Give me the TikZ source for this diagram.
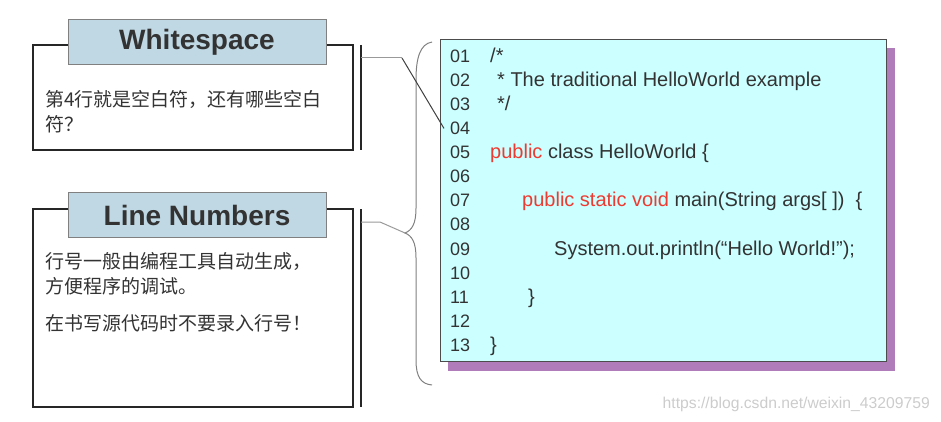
\documentclass[tikz,border=0pt]{standalone}
\usepackage{fontspec}
\setmainfont{Liberation Sans}
\newfontfamily\cjk{Noto Sans CJK SC}
\usepackage{tikz}
\usetikzlibrary{calc}
\definecolor{titleblue}{HTML}{BFD8E4}
\definecolor{codecyan}{HTML}{CCFFFF}
\definecolor{shadowpurple}{HTML}{B07CBA}
\definecolor{textgray}{HTML}{333333}
\definecolor{kwred}{HTML}{EE3A30}
\tikzstyle{outerbox} = [rectangle, draw=black!85, line width=1.2pt, fill=white, minimum width=320pt, inner sep=0pt]
\tikzstyle{titlebox} = [rectangle, draw=gray, line width=1pt, fill=titleblue, minimum width=258pt, minimum height=45pt, font=\fontsize{28}{30}\selectfont\bfseries, text=textgray]
\tikzstyle{note} = [anchor=west, align=left, inner sep=0pt, font=\cjk\fontsize{19}{25}\selectfont, text=textgray]
\tikzstyle{num} = [anchor=base west, inner sep=0pt, font=\fontsize{18}{20}\selectfont, text=textgray]
\tikzstyle{code} = [num, font=\fontsize{20}{22}\selectfont]
\tikzstyle{link} = [draw=gray!80, line width=1pt]
\newcommand{\kw}[1]{\textcolor{kwred}{#1}}

\begin{document}
\begin{tikzpicture}[x=1pt, y=-1pt]
    \useasboundingbox (0,0) rectangle (941,422);

    % left boxes
    \node (wsbox) [outerbox, minimum height=105pt] at (193,97.5) {};
    \node (wstitle) [titlebox] at (197,42.5) {Whitespace};
    \node (wstext) [note] at (45,112) {第4行就是空白符，还有哪些空白\\符？};

    \node (lnbox) [outerbox, minimum height=198pt] at (193,308) {};
    \node (lntitle) [titlebox] at (197,215) {Line Numbers};
    \node (lntext) [note, anchor=north west] at (45,252) {行号一般由编程工具自动生成，\\方便程序的调试。\\[12pt]在书写源代码时不要录入行号！};

    \draw [line width=1.2pt, black!85] (361,45) -- (361,150);
    \draw [line width=1.2pt, black!85] (361,209) -- (361,407);
    \coordinate (wsbar) at (361,58);
    \coordinate (lnbar) at (361,222);

    % code listing
    \fill [shadowpurple] (448,48) rectangle (895,371);
    \node (code) [rectangle, draw=black!70, line width=1pt, fill=codecyan, minimum width=446pt, minimum height=321pt, inner sep=0pt] at (663,200.5) {};

    \foreach \n [count=\k] in {01,02,03,04,05,06,07,08,09,10,11,12,13}
        \node (n\n) [num] at (450,{62.4+24.08*(\k-1)}) {\n};

    \node (c01) [code] at ($(n01.base west) + (40,0)$) {/*};
    \node (c02) [code] at ($(n02.base west) + (47,0)$) {* The traditional HelloWorld example};
    \node (c03) [code] at ($(n03.base west) + (47,0)$) {*/};
    \node (c05) [code] at ($(n05.base west) + (40,0)$) {\kw{public} class HelloWorld \{};
    \node (c07) [code] at ($(n07.base west) + (72,0)$) {\kw{public static void} main(String args[ ])~~\{};
    \node (c09) [code] at ($(n09.base west) + (104,0)$) {System.out.println(“Hello World!”);};
    \node (c11) [code] at ($(n11.base west) + (78,0)$) {\}};
    \node (c13) [code] at ($(n13.base west) + (40,0)$) {\}};

    % brace
    \coordinate (bracetip) at (405,233);
    \draw [gray, line width=1pt] (432,42) .. controls (420,44) and (416,58) .. (416,80)
        -- (416,208) .. controls (416,224) and (412,230) .. (bracetip)
        .. controls (412,236) and (416,242) .. (416,258)
        -- (416,360) .. controls (416,377) and (421,384) .. (432,385);

    % connectors
    \draw [link] (wsbar) -- ++(41,0) coordinate (wsbend);
    \draw [black!75, line width=1pt] (wsbend) -- ($(n04.west) + (-6,0)$);
    \draw [link] (lnbar) -- ++(19,0) -- (bracetip);

    \node (mark) [anchor=base east, inner sep=0pt, text=black!20, font=\fontsize{15.7}{16}\selectfont] at (930,408) {https://blog.csdn.net/weixin\_43209759};
\end{tikzpicture}
\end{document}
